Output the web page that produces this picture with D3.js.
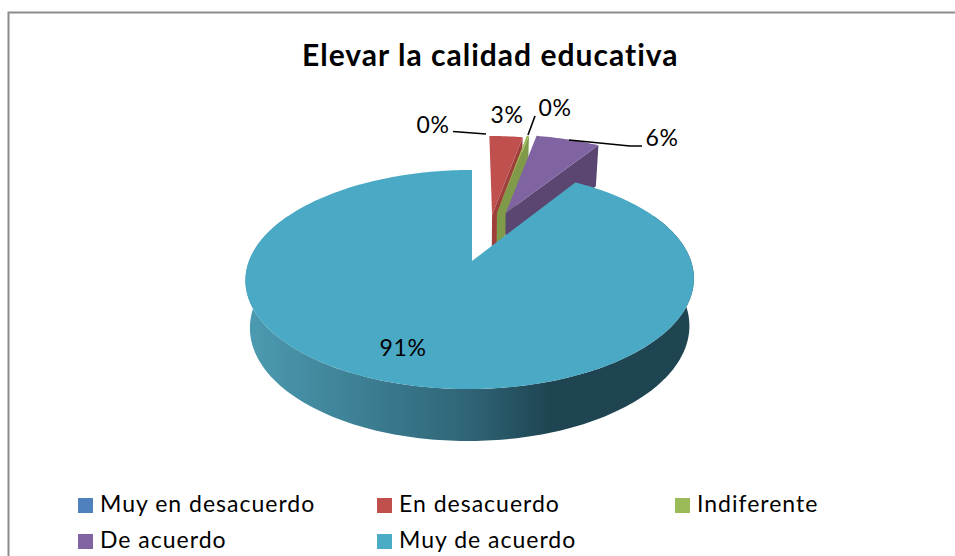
<!DOCTYPE html>
<html><head><meta charset="utf-8">
<script src="https://cdn.jsdelivr.net/npm/d3@7"></script>
<style>html,body{margin:0;padding:0;background:#fff;overflow:hidden}svg{display:block}text{font-family:Lato,"Open Sans",sans-serif;fill:#000}</style>
</head><body><svg id="c" width="955" height="556"></svg>
<script>
const categories = ["Muy en desacuerdo","En desacuerdo","Indiferente","De acuerdo","Muy de acuerdo"];
const values = [0, 3, 0.2, 5.8, 91];
const title = "Elevar la calidad educativa";
const topColors = ["#4f81bd","#c0504d","#9bbb59","#8064a2","#4aa9c4"];
const legendColors = ["#4f81bd","#c0504d","#9bbb59","#8064a2","#4bacc6"];
const faceColors = ["#3d6590","#9f3f3c","#7f9a48","#5b4571","#1f4552"];
// slice explosion in disc units
const explodeU = [0.09, 0.098, 0.122, 0.165, 0];
const explodeV = [0.46, 0.466, 0.488, 0.488, 0];
// label layout
const labelLayout = [
  {x:433,y:133,leader:[[453,131.5],[486,134]]},
  {x:507,y:123,leader:null},
  {x:555,y:116,leader:[[535,116],[528,135]]},
  {x:662,y:146,leader:[[569,140],[630,146],[642,146]]},
  {x:403,y:356,leader:null}
];
const legendLayout = [{x:78,y:498,tx:100},{x:377,y:498,tx:399},{x:675,y:498,tx:697},{x:78,y:534,tx:100},{x:377,y:534,tx:399}];

const svg = d3.select("#c");
const defs = svg.append("defs");
const ap = {x:472,y:261}, c=221, a=106.4, b=0.169, D=46.6, bz=0.103, shrink=0.02;
function proj(u,v,z,skew){
  const s=1/(1+b*v);
  return [ap.x + c*(1-shrink*z)*u*s - (skew?2*(1-v):0), ap.y - a*v*s + z*D/(1+bz*v)];
}
const line = d3.line();
const grad = defs.append("linearGradient").attr("id","side").attr("gradientUnits","userSpaceOnUse")
  .attr("x1",250).attr("x2",690).attr("y1",0).attr("y2",0);
[[0,"#4c9ab1"],[0.3,"#3a7a8e"],[0.5,"#2f6476"],[0.68,"#1f4552"],[1,"#1f4552"]].forEach(s=>grad.append("stop").attr("offset",s[0]).attr("stop-color",s[1]));

// frame
svg.append("rect").attr("x",8.5).attr("y",12.5).attr("width",1000).attr("height",600)
  .attr("fill","#fff").attr("stroke","#8c8c8c").attr("stroke-width",2);

svg.append("text").attr("x",302).attr("y",66)
  .attr("font-weight","bold").attr("font-size",30).attr("letter-spacing",1.02).text(title);

const arcs = d3.pie().sort(null).value(d=>d)(values);
const G = svg.append("g");
function rim(i,z,t0,t1){
  const n=Math.max(2,Math.ceil((t1-t0)/0.02)), pts=[];
  for(let k=0;k<=n;k++){const t=t0+(t1-t0)*k/n;
    pts.push(proj(explodeU[i]+Math.sin(t),explodeV[i]+Math.cos(t),z,i===4));}
  return pts;
}
arcs.forEach((d,i)=>{
  if(d.value===0) return;
  const t0=d.startAngle,t1=d.endAngle;
  const U=explodeU[i],V=explodeV[i];
  if(i<4){
    const e=proj(U+Math.sin(t1),V+Math.cos(t1),0), e2=proj(U+Math.sin(t1),V+Math.cos(t1),1);
    const p=proj(U,V,0), p2=proj(U,V,1);
    G.append("path").attr("d",line([p,e,e2,p2])+"Z").attr("fill",faceColors[i]);
  } else {
    const lo=Math.PI*0.35, hi=Math.PI*1.65;
    const topEdge=rim(i,0,lo,hi), botEdge=rim(i,1,lo,hi).reverse();
    G.append("path").attr("d",line(topEdge.concat(botEdge))+"Z").attr("fill","url(#side)");
  }
  const pts=[proj(U,V,0)].concat(rim(i,0,t0,t1));
  G.append("path").attr("d",line(pts)+"Z").attr("fill",topColors[i]);
});

// leaders and labels
labelLayout.forEach(l=>{ if(l.leader) svg.append("path").attr("d",line(l.leader)).attr("fill","none").attr("stroke","#000").attr("stroke-width",1.6); });
const pct=d3.format(".0f");
svg.selectAll("text.lab").data(values).join("text").attr("class","lab")
  .attr("x",(d,i)=>labelLayout[i].x).attr("y",(d,i)=>labelLayout[i].y)
  .attr("text-anchor","middle").attr("font-size",23).attr("letter-spacing",0.6).text(d=>pct(d)+"%");

// legend
const lg=svg.selectAll("g.leg").data(categories).join("g").attr("class","leg");
lg.append("rect").attr("x",(d,i)=>legendLayout[i].x).attr("y",(d,i)=>legendLayout[i].y)
  .attr("width",15).attr("height",15).attr("fill",(d,i)=>legendColors[i]);
lg.append("text").attr("x",(d,i)=>legendLayout[i].tx).attr("y",(d,i)=>legendLayout[i].y+14)
  .attr("font-size",23).attr("letter-spacing",1).text(d=>d);
</script></body></html>
